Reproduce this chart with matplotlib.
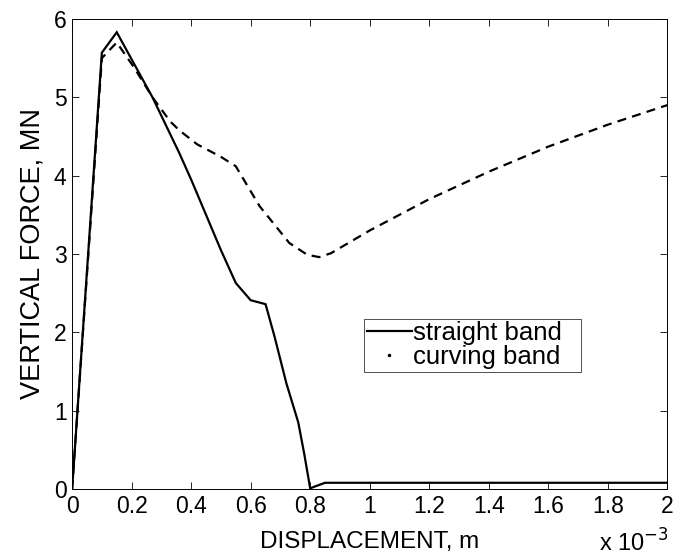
import matplotlib
matplotlib.use("Agg")
import matplotlib.pyplot as plt
from matplotlib.lines import Line2D
from matplotlib.ticker import MultipleLocator, FormatStrFormatter

plt.rcParams['font.family'] = ['Liberation Sans', 'DejaVu Sans']
plt.rcParams['lines.scale_dashes'] = False

# displacement in units of 1e-3 m, force in MN
straight_x = [0.0, 0.10, 0.15, 0.27, 0.36, 0.40, 0.50, 0.55, 0.60, 0.65,
              0.68, 0.72, 0.76, 0.78, 0.80, 0.85, 2.0]
straight_y = [0.0, 5.57, 5.83, 5.0, 4.29, 3.95, 3.05, 2.63, 2.41, 2.36,
              1.95, 1.35, 0.85, 0.45, 0.01, 0.08, 0.08]

curving_x = [0.0, 0.10, 0.15, 0.21, 0.27, 0.33, 0.36, 0.42, 0.50, 0.55,
             0.63, 0.73, 0.79, 0.83, 0.87, 1.0, 1.2, 1.4, 1.6, 1.8, 2.0]
curving_y = [0.0, 5.50, 5.70, 5.37, 5.0, 4.69, 4.58, 4.40, 4.24, 4.12,
             3.61, 3.14, 2.99, 2.96, 3.01, 3.30, 3.70, 4.05, 4.37, 4.65, 4.90]

legend_labels = ['straight band', 'curving band']

fig = plt.figure(figsize=(6.74, 5.57), dpi=100)
ax = fig.add_axes([0.107, 0.122, 0.883, 0.844])

ax.plot(straight_x, straight_y, color='black', lw=1.6, solid_joinstyle='miter')
ax.plot(curving_x, curving_y, color='black', lw=1.6, dashes=(6.5, 4.5))

ax.set_xlim(0, 2)
ax.set_ylim(0, 6)
ax.xaxis.set_major_locator(MultipleLocator(0.2))
ax.yaxis.set_major_locator(MultipleLocator(1))
ax.xaxis.set_major_formatter(FormatStrFormatter('%g'))
ax.yaxis.set_major_formatter(FormatStrFormatter('%g'))
ax.tick_params(direction='in', top=True, right=True, length=5, width=0.6,
               labelsize=16.5, pad=4)
for s in ax.spines.values():
    s.set_linewidth(0.7)

ax.set_xlabel('DISPLACEMENT, m', fontsize=17.5, labelpad=10)
ax.set_ylabel('VERTICAL FORCE, MN', fontsize=19.5, labelpad=6)
fig.text(0.992, 0.010, r'x 10$^{-3}$', fontsize=17, ha='right', va='baseline')

handles = [Line2D([], [], color='black', lw=1.6),
           Line2D([], [], color='black', ls='none', marker='.', markersize=3)]
leg = ax.legend(handles, legend_labels, loc='lower left',
                bbox_to_anchor=(0.491, 0.249, 0.364, 0.115), mode='expand',
                fontsize=18.5, frameon=True, fancybox=False, handlelength=1.75,
                handletextpad=0.05, borderpad=0.1, labelspacing=0.0,
                borderaxespad=0)
leg.get_frame().set_edgecolor('black')
leg.get_frame().set_linewidth(0.6)

fig.savefig('out.png', dpi=100)
